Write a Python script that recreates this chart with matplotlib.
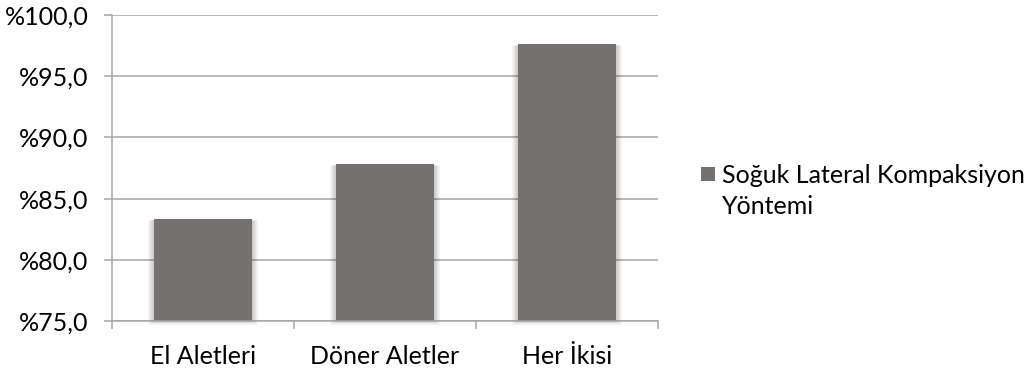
import matplotlib
matplotlib.use("Agg")
import matplotlib.pyplot as plt
from matplotlib.patches import Rectangle
from matplotlib.legend_handler import HandlerPatch

plt.rcParams['font.family'] = ['Lato', 'DejaVu Sans']

categories = ["El Aletleri", "Döner Aletler", "Her İkisi"]
values = [83.3, 87.8, 97.6]
series_name = "Soğuk Lateral Kompaksiyon\nYöntemi"
yticks = [75, 80, 85, 90, 95, 100]
ytick_labels = ["%75,0", "%80,0", "%85,0", "%90,0", "%95,0", "%100,0"]

bar_color = "#767171"
line_color = "#a6a6a6"
fs = 18

fig = plt.figure(figsize=(10.28, 3.71), dpi=100)
ax = fig.add_axes([112 / 1028, 50 / 371, 546 / 1028, 306 / 371])

x = list(range(len(categories)))
width = 0.533

# soft shadow: a few widening translucent layers behind each bar
px_x = 1 / 182.0
px_y = 1 / 12.24
for k in range(1, 7):
    ax.bar(x, [v - 75 + k * px_y * 0.4 for v in values], bottom=75 - k * px_y * 0.6,
           width=width + 2 * k * px_x, color="black", alpha=0.035,
           linewidth=0, zorder=2, clip_on=False)

bars = ax.bar(x, [v - 75 for v in values], bottom=75, width=width,
              color=bar_color, linewidth=0, zorder=3, label=series_name)

ax.set_xlim(-0.5, 2.5)
ax.set_ylim(75, 100)

ax.set_yticks(yticks)
ax.set_yticklabels(ytick_labels)
ax.yaxis.grid(True, color=line_color, linewidth=1.1, zorder=1)
ax.set_axisbelow(True)

ax.set_xticks(x)
ax.set_xticklabels(categories)
ax.set_xticks([-0.5, 0.5, 1.5, 2.5], minor=True)

for s in ["top", "right"]:
    ax.spines[s].set_visible(False)
for s in ["left", "bottom"]:
    ax.spines[s].set_color(line_color)
    ax.spines[s].set_linewidth(1.1)
    ax.spines[s].set_zorder(4)

ax.tick_params(axis="y", which="major", length=6, width=1.1, color=line_color,
               pad=11, labelsize=fs, labelcolor="black")
ax.tick_params(axis="x", which="major", length=0, pad=17, labelsize=fs,
               labelcolor="black")
ax.tick_params(axis="x", which="minor", length=6, width=1.1, color=line_color)


# square legend marker lifted to sit beside the first text line
def square_patch(legend, orig_handle, xdescent, ydescent, width, height, fontsize):
    side = 0.58 * fontsize
    return Rectangle((-xdescent, -ydescent + 0.72 * fontsize), side, side)


handle = bars.patches[0]
leg = ax.legend(handles=[handle], labels=[series_name], loc="upper left",
                bbox_to_anchor=(1.06, 0.545),
                frameon=False, fontsize=fs, handlelength=0.58, handleheight=0.58,
                handletextpad=0.25, borderaxespad=0, labelspacing=0,
                handler_map={handle: HandlerPatch(patch_func=square_patch)})
for t in leg.get_texts():
    t.set_linespacing(1.4)

fig.savefig("out.png", dpi=100)
